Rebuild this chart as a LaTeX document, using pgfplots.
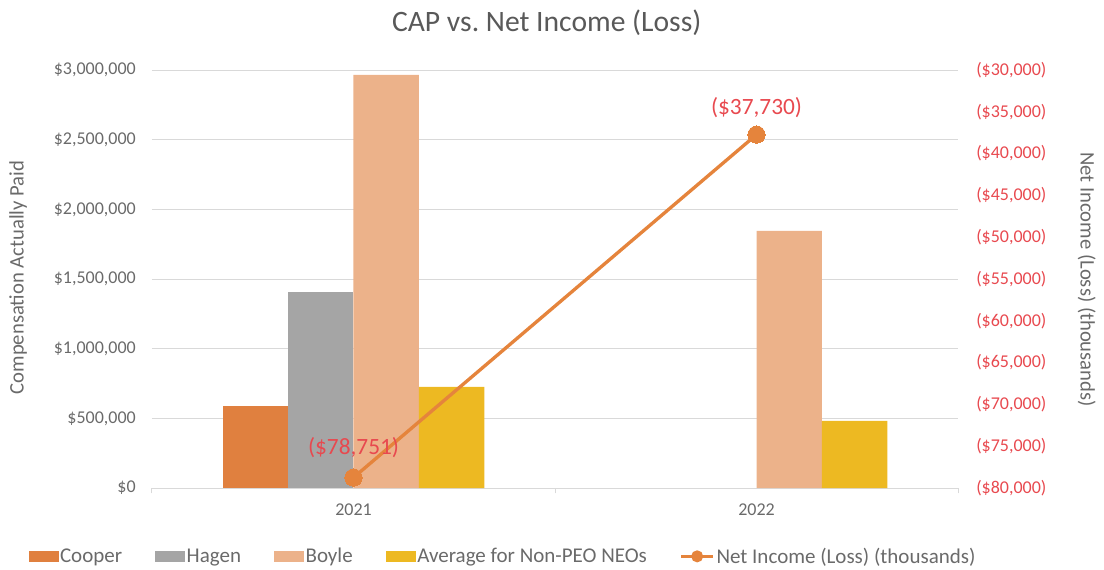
\documentclass[border=0pt]{standalone}
\usepackage{fontspec}
\setmainfont{Carlito}
\usepackage{pgfplots}
\pgfplotsset{compat=1.18}
\frenchspacing
\definecolor{cooper}{HTML}{E0803F}
\definecolor{hagen}{HTML}{A5A5A5}
\definecolor{boyle}{HTML}{ECB28A}
\definecolor{avgneo}{HTML}{EDB922}
\definecolor{netline}{HTML}{E5843C}
\definecolor{netred}{HTML}{E8494F}
\definecolor{gridc}{HTML}{D9D9D9}
\definecolor{tickgray}{HTML}{6A6A6A}
\definecolor{titlegray}{HTML}{595959}
\begin{document}
\begin{tikzpicture}
\begin{axis}[
  at={(0,0)}, anchor=south west,
  scale only axis, width=604.5pt, height=313.5pt,
  xmin=-0.5, xmax=1.5, ymin=0, ymax=3000000,
  ybar=0pt, bar width=0.1625,
  axis y line*=left, axis x line*=bottom,
  y axis line style={draw=none},
  x axis line style={draw=gridc, line width=0.75pt, -},
  xtick={0,1}, xticklabels={2021,2022},
  ytick={0,500000,1000000,1500000,2000000,2500000,3000000},
  yticklabels={{\$0},{\$500,000},{\$1,000,000},{\$1,500,000},{\$2,000,000},{\$2,500,000},{\$3,000,000}},
  scaled y ticks=false,
  major tick length=0pt,
  ymajorgrids, grid style={gridc, line width=0.75pt},
  extra x ticks={-0.5,0.5,1.5}, extra x tick labels={},
  extra x tick style={major tick length=4pt, tick align=outside, xmajorgrids=false, tick style={gridc, line width=0.75pt}},
  xticklabel style={font=\fontsize{13.5}{16}\selectfont, text=tickgray, inner sep=0pt, anchor=north, yshift=-12pt},
  yticklabel style={font=\fontsize{13.5}{16}\selectfont, text=tickgray, inner sep=0pt, anchor=east, xshift=-12pt},
]
\addplot[fill=cooper, draw=none] coordinates {(0,590000)};
\addplot[fill=hagen, draw=none] coordinates {(0,1410000)};
\addplot[fill=boyle, draw=none] coordinates {(0,2965000) (1,1845000)};
\addplot[fill=avgneo, draw=none] coordinates {(0,725000) (1,481000)};
\end{axis}
\begin{axis}[
  at={(0,0)}, anchor=south west,
  scale only axis, width=604.5pt, height=313.5pt,
  xmin=-0.5, xmax=1.5, ymin=-80000, ymax=-30000,
  axis y line*=right, axis x line=none,
  y axis line style={draw=none},
  major tick length=0pt,
  ytick={-80000,-75000,-70000,-65000,-60000,-55000,-50000,-45000,-40000,-35000,-30000},
  yticklabels={{(\$80,000)},{(\$75,000)},{(\$70,000)},{(\$65,000)},{(\$60,000)},{(\$55,000)},{(\$50,000)},{(\$45,000)},{(\$40,000)},{(\$35,000)},{(\$30,000)}},
  scaled y ticks=false,
  yticklabel style={font=\fontsize{13.5}{16}\selectfont, text=netred, inner sep=0pt, anchor=west, xshift=13.5pt},
  legend columns=5,
  legend style={at={(0.4349,-0.1635)}, anchor=center, draw=none, fill=none,
    font=\fontsize{15.75}{18}\selectfont, text=tickgray,
    nodes={inner sep=0.75pt},
    /tikz/every odd column/.append style={column sep=0.75pt},
    /tikz/every even column/.append style={column sep=24pt}},
]
\addlegendimage{legend image code/.code={\fill[cooper] (0pt,-3.5pt) rectangle (21.75pt,3.5pt);}}
\addlegendentry{Cooper}
\addlegendimage{legend image code/.code={\fill[hagen] (0pt,-3.5pt) rectangle (21.75pt,3.5pt);}}
\addlegendentry{Hagen}
\addlegendimage{legend image code/.code={\fill[boyle] (0pt,-3.5pt) rectangle (21.75pt,3.5pt);}}
\addlegendentry{Boyle}
\addlegendimage{legend image code/.code={\fill[avgneo] (0pt,-3.5pt) rectangle (21.75pt,3.5pt);}}
\addlegendentry{Average for Non-PEO NEOs}
\addplot[color=netline, line width=2.5pt, mark=*, mark size=6.5pt,
  mark options={fill=netline, draw=netline, line width=0pt},
  legend image code/.code={\draw[netline, line width=2pt] (0pt,0pt) -- (24pt,0pt); \fill[netline] (12pt,0pt) circle (3.2pt);}]
  coordinates {(0,-78751) (1,-37730)}
  node[pos=0, anchor=center, yshift=22.3pt, font=\fontsize{17.5}{20}\selectfont, text=netred] {(\$78,751)}
  node[pos=1, anchor=center, yshift=20.5pt, font=\fontsize{17.5}{20}\selectfont, text=netred] {(\$37,730)};
\addlegendentry{Net Income (Loss) (thousands)}
\end{axis}
\node[font=\fontsize{22.2}{26}\selectfont, text=titlegray] at (296pt,349.1pt) {CAP vs. Net Income (Loss)};
\node[rotate=90, font=\fontsize{15.5}{18}\selectfont, text=tickgray] at (-100.5pt,157.9pt) {Compensation Actually Paid};
\node[rotate=-90, font=\fontsize{15.5}{18}\selectfont, text=tickgray] at (701pt,156.4pt) {Net Income (Loss) (thousands)};
\pgfresetboundingbox
\path (-114pt,-60.75pt) rectangle (714pt,366pt);
\end{tikzpicture}
\end{document}
